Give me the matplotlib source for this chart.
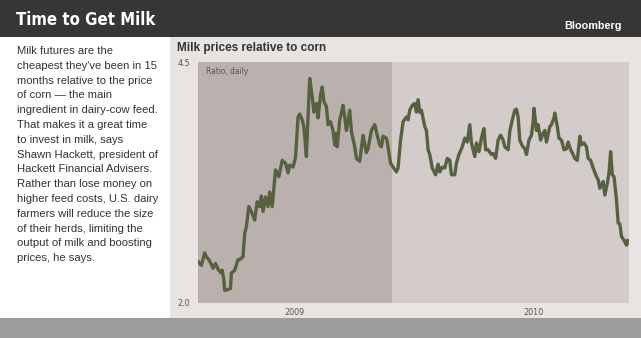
import matplotlib.pyplot as plt
from matplotlib.patches import Rectangle
import pandas as pd

# milk/corn price ratio (days since first sample, ratio)
start = pd.Timestamp('2009-05-13')
days = [0, 4, 8, 10, 13, 16, 18, 21, 24, 28, 29, 31, 32, 36, 39, 40, 44, 48, 50, 54,
        56, 58, 61, 64, 68, 71, 74, 76, 78, 81, 84, 86, 89, 93, 97, 101, 105, 108, 110, 114,
        117, 120, 122, 125, 127, 130, 131, 134, 137, 139, 142, 144, 147, 149, 151, 154, 156, 159, 162, 164,
        166, 167, 170, 172, 174, 176, 178, 182, 184, 188, 190, 194, 198, 202, 204, 208, 212, 215, 218, 220,
        222, 226, 228, 231, 234, 238, 240, 243, 246, 250, 252, 254, 257, 260, 262, 264, 266, 268, 272, 274,
        276, 278, 281, 285, 288, 290, 293, 296, 299, 302, 304, 308, 310, 313, 317, 320, 323, 326, 328, 332,
        334, 337, 340, 343, 345, 348, 352, 354, 357, 360, 363, 366, 368, 372, 374, 377, 380, 382, 384, 386,
        389, 392, 394, 397, 400, 402, 403, 406, 408, 411, 414, 416, 418, 422, 424, 427, 428, 431, 433, 436,
        439, 442, 444, 447, 450, 452, 455, 458, 460, 463, 466, 468, 471, 474, 478, 480, 482, 486, 488, 491,
        493, 495, 497, 499, 502, 504, 506, 508, 511, 514, 515, 518]
ratio = [2.43, 2.39, 2.52, 2.48, 2.45, 2.40, 2.36, 2.41, 2.35, 2.31, 2.34, 2.24, 2.13, 2.14, 2.15, 2.31, 2.34, 2.45, 2.45, 2.48,
         2.72, 2.79, 3.00, 2.95, 2.86, 3.05, 3.00, 3.11, 2.95, 3.10, 3.00, 3.15, 3.00, 3.38, 3.31, 3.48, 3.45, 3.35, 3.43, 3.41,
         3.51, 3.93, 3.96, 3.90, 3.83, 3.52, 3.73, 4.33, 4.14, 3.98, 4.07, 3.92, 4.16, 4.24, 4.09, 4.04, 3.85, 3.88, 3.79, 3.64,
         3.76, 3.62, 3.90, 3.97, 4.05, 3.93, 3.79, 4.00, 3.78, 3.62, 3.50, 3.47, 3.74, 3.56, 3.60, 3.79, 3.85, 3.74, 3.64, 3.62,
         3.73, 3.71, 3.62, 3.45, 3.41, 3.36, 3.40, 3.69, 3.88, 3.93, 3.90, 4.00, 4.05, 4.07, 3.98, 4.11, 3.98, 4.00, 3.83, 3.79,
         3.59, 3.54, 3.40, 3.33, 3.44, 3.36, 3.41, 3.40, 3.50, 3.48, 3.33, 3.33, 3.45, 3.54, 3.62, 3.71, 3.67, 3.85, 3.66, 3.52,
         3.66, 3.57, 3.71, 3.81, 3.59, 3.59, 3.54, 3.55, 3.50, 3.69, 3.74, 3.69, 3.62, 3.59, 3.78, 3.90, 4.00, 4.01, 3.93, 3.69,
         3.63, 3.60, 3.54, 3.69, 3.74, 3.88, 4.02, 3.79, 3.85, 3.69, 3.76, 3.79, 3.67, 3.83, 3.85, 3.92, 3.97, 3.83, 3.71, 3.69,
         3.59, 3.60, 3.67, 3.59, 3.54, 3.50, 3.48, 3.73, 3.64, 3.66, 3.62, 3.50, 3.48, 3.40, 3.31, 3.28, 3.19, 3.26, 3.12, 3.24,
         3.35, 3.57, 3.33, 3.31, 3.07, 2.83, 2.82, 2.69, 2.65, 2.60, 2.65, 2.62]
yticks = [2.0, 4.5]
year_labels = ['2009', '2010']
year_label_days = [116, 402]
year_break = pd.Timestamp('2010-01-01')
end_day = 517

blurb = ["Milk futures are the",
         "cheapest they've been in 15",
         "months relative to the price",
         "of corn \u2014 the main",
         "ingredient in dairy-cow feed.",
         "That makes it a great time",
         "to invest in milk, says",
         "Shawn Hackett, president of",
         "Hackett Financial Advisers.",
         "Rather than lose money on",
         "higher feed costs, U.S. dairy",
         "farmers will reduce the size",
         "of their herds, limiting the",
         "output of milk and boosting",
         "prices, he says."]

W, H = 641, 338
fig = plt.figure(figsize=(W / 100, H / 100), dpi=100)
fig.patch.set_facecolor('#e8e4e2')

def box(x, y, w, h, color):
    # pixel box (top-left origin) -> figure fraction
    fig.add_artist(Rectangle((x / W, 1 - (y + h) / H), w / W, h / H,
                             transform=fig.transFigure, color=color, lw=0, zorder=0))

box(0, 0, W, 37, '#363636')
box(0, 37, 170, 281, '#ffffff')
box(0, 318, W, 20, '#9c9c9c')

narrow = ['DejaVu Sans']
fig.text(16 / W, 1 - 20 / H, 'Time to Get Milk', color='white', fontsize=12,
         fontweight='bold', fontstretch='condensed', family=narrow, va='center', ha='left')
fig.text(622 / W, 1 - 26 / H, 'Bloomberg', color='white', fontsize=7.8,
         fontweight='bold', family=['Liberation Sans', 'DejaVu Sans'], va='center', ha='right')
fig.text(177 / W, 1 - 48 / H, 'Milk prices relative to corn', color='#333333', fontsize=8.5,
         fontweight='bold', family=['Liberation Sans', 'DejaVu Sans'], va='center', ha='left')

for i, line in enumerate(blurb):
    fig.text(17 / W, 1 - (51 + i * 14.8) / H, line, color='#333333', fontsize=8.1,
             family=['Liberation Sans', 'DejaVu Sans'], va='center', ha='left')

dates = start + pd.to_timedelta(days, unit='D')

ax = fig.add_axes([198 / W, 35 / H, 431 / W, 241 / H])
ax.set_facecolor('#d4cccb')
ax.axvspan(start, year_break, color='#bab1ae', lw=0, zorder=0)
ax.plot(dates, ratio, color='#56613f', lw=2.4, solid_joinstyle='round', zorder=3)
ax.set_xlim(start, start + pd.Timedelta(days=end_day))
ax.set_ylim(2.0, 4.5)

for s in ax.spines.values():
    s.set_visible(False)
ax.set_yticks(yticks)
ax.set_yticklabels(['%.1f' % t for t in yticks], family=narrow, fontstretch='condensed',
                   fontsize=6.5, color='#555555')
ax.set_xticks([start + pd.Timedelta(days=d) for d in year_label_days])
ax.set_xticklabels(year_labels, family=narrow, fontstretch='condensed', fontsize=6.5, color='#555555')
ax.tick_params(axis='y', length=0, pad=15)
ax.tick_params(axis='x', length=0, pad=3.5)
for lbl in ax.get_yticklabels():
    lbl.set_horizontalalignment('left')
ax.text(8 / 431, 1 - 10 / 241, 'Ratio, daily', transform=ax.transAxes, family=narrow,
        fontstretch='condensed', fontsize=6, color='#555555', va='center', ha='left')

fig.savefig('out.png', dpi=100, facecolor=fig.get_facecolor())
